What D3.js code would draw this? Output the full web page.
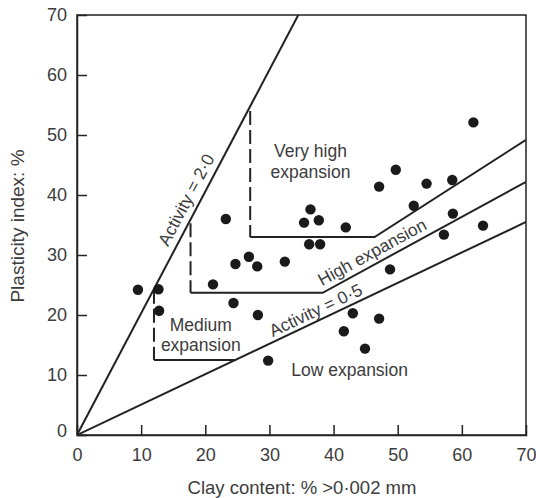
<!DOCTYPE html>
<html><head><meta charset="utf-8">
<script src="https://cdn.jsdelivr.net/npm/d3@7"></script>
<style>
html,body{margin:0;padding:0;background:#fff;}
svg{display:block;font-family:"Liberation Sans",Arial,sans-serif;}
</style></head>
<body><svg id="chart" width="536" height="498"></svg>
<script>
// ---- data ----
const clayContent = [9.5,12.7,12.8,23.2,24.7,21.2,24.4,26.8,28.1,32.4,28.2,29.8,36.4,35.4,37.7,41.9,36.2,37.9,43.0,41.6,44.9,47.1,48.8,47.1,49.7,52.5,54.5,58.5,58.6,57.2,63.3,61.8];
const plasticity  = [24.2,24.3,20.7,36.0,28.5,25.1,22.0,29.7,28.1,28.9,20.0,12.4,37.6,35.4,35.8,34.6,31.8,31.8,20.3,17.3,14.4,19.4,27.6,41.4,44.2,38.2,41.9,42.5,36.9,33.4,34.9,52.1];
const xTicks = [0,10,20,30,40,50,60,70];
const yTicks = [0,10,20,30,40,50,60,70];
// activity lines (from origin to end point)
const activityEnds = [[34.5,70],[70,35.5]];
// boundary polylines: dashed vertical parts and solid parts
const dashedBounds = [
  [[12,24.2],[12,12.5]],
  [[17.7,35.3],[17.7,23.7]],
  [[27,54],[27,33]]
];
const solidBounds = [
  [[12,12.5],[24.8,12.5]],
  [[17.7,23.7],[38.3,23.7],[70,42.2]],
  [[27,33],[46.4,33],[70,49.2]]
];
const labels = [
  {t:"Very high", x:36.4, y:47.4},
  {t:"expansion", x:36.4, y:43.8},
  {t:"Medium", x:19.3, y:18.3},
  {t:"expansion", x:19.3, y:15.0},
  {t:"Low expansion", x:42.5, y:10.8}
];
const slantLabels = [
  {t:"Activity = 2·0", x:17.0, y:39.2, line:[[0,0],[34.5,70]]},
  {t:"High expansion", x:46.0, y:30.5, line:[[38.3,23.7],[70,42.2]]},
  {t:"Activity = 0·5", x:37.2, y:20.8, line:[[0,0],[70,35.5]]}
];

// ---- chart ----
const svg = d3.select("#chart");
const x = d3.scaleLinear().domain([0,70]).range([77,526]);
const y = d3.scaleLinear().domain([0,70]).range([435,15]);
const ink = "#222", txt = "#3c3c3c";

// frame
svg.append("rect").attr("x",x(0)).attr("y",y(70)).attr("width",x(70)-x(0)).attr("height",y(0)-y(70))
  .attr("fill","none").attr("stroke",ink).attr("stroke-width",1.5);

// axes (inward ticks)
const gx = svg.append("g").attr("transform",`translate(0,${y(0)})`)
  .call(d3.axisBottom(x).tickValues(xTicks).tickSize(-10).tickPadding(13).tickFormat(d3.format("d")));
const gy = svg.append("g").attr("transform",`translate(${x(0)},0)`)
  .call(d3.axisLeft(y).tickValues(yTicks).tickSize(-10).tickPadding(10).tickFormat(d3.format("d")));
[gx,gy].forEach(g=>{
  g.select(".domain").attr("stroke",ink).attr("stroke-width",1.5);
  g.selectAll(".tick line").attr("stroke",ink).attr("stroke-width",1.5);
  g.selectAll(".tick text").attr("fill",txt).attr("font-size",18).attr("font-family","Liberation Sans, Arial, sans-serif");
});
gx.selectAll(".tick").filter(d=>d===70||d===0).select("line").remove();
gy.selectAll(".tick").filter(d=>d===70||d===0).select("line").remove();
gy.selectAll(".tick").filter(d=>d===0).select("text").attr("dy","0.1em");

// axis titles
svg.append("text").attr("x",302).attr("y",494).attr("text-anchor","middle")
  .attr("font-size",18.5).attr("fill",txt).text("Clay content: % >0·002 mm");
svg.append("text").attr("transform",`translate(24,${(y(0)+y(70))/2+1}) rotate(-90)`).attr("text-anchor","middle")
  .attr("font-size",19).attr("fill",txt).text("Plasticity index: %");

const line = d3.line().x(d=>x(d[0])).y(d=>y(d[1]));
const clip = svg.append("clipPath").attr("id","pc").append("rect")
  .attr("x",x(0)).attr("y",y(70)).attr("width",x(70)-x(0)).attr("height",y(0)-y(70));
const plot = svg.append("g").attr("clip-path","url(#pc)");

plot.selectAll("path.act").data(activityEnds).join("path").attr("class","act")
  .attr("d",d=>line([[0,0],d])).attr("fill","none").attr("stroke",ink).attr("stroke-width",2);
plot.selectAll("path.sb").data(solidBounds).join("path").attr("class","sb")
  .attr("d",line).attr("fill","none").attr("stroke",ink).attr("stroke-width",2);
plot.selectAll("path.db").data(dashedBounds).join("path").attr("class","db")
  .attr("d",line).attr("fill","none").attr("stroke",ink).attr("stroke-width",2).attr("stroke-dasharray","14,5");

// points
plot.selectAll("circle").data(clayContent.map((c,i)=>[c,plasticity[i]])).join("circle")
  .attr("cx",d=>x(d[0])).attr("cy",d=>y(d[1])).attr("r",5.2).attr("fill","#1a1a1a");

// labels
svg.selectAll("text.lab").data(labels).join("text").attr("class","lab")
  .attr("x",d=>x(d.x)).attr("y",d=>y(d.y)).attr("dy","0.35em").attr("text-anchor","middle")
  .attr("font-size",17.5).attr("fill",txt).text(d=>d.t);
svg.selectAll("text.slab").data(slantLabels).join("text").attr("class","slab")
  .attr("transform",d=>{
    const a = Math.atan2(y(d.line[1][1])-y(d.line[0][1]), x(d.line[1][0])-x(d.line[0][0]))*180/Math.PI;
    return `translate(${x(d.x)},${y(d.y)}) rotate(${a})`;
  })
  .attr("dy","0.35em").attr("text-anchor","middle")
  .attr("font-size",17.5).attr("fill",txt).text(d=>d.t);
</script></body></html>
